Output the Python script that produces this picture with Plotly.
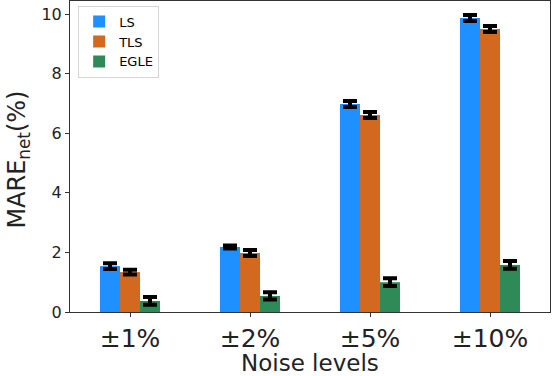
import plotly.graph_objects as go

noise_levels = ['±1%', '±2%', '±5%', '±10%']

ls_vals = [1.54, 2.18, 6.98, 9.87]
tls_vals = [1.34, 1.98, 6.61, 9.50]
egle_vals = [0.37, 0.54, 1.00, 1.58]

ls_err = [0.10, 0.05, 0.10, 0.10]
tls_err = [0.08, 0.10, 0.10, 0.10]
egle_err = [0.13, 0.12, 0.13, 0.13]

colors = ['#1E90FF', '#D2691E', '#2E8B57']
font_name = 'DejaVu Sans'

fig = go.Figure()
for name, vals, errs, col in [('LS', ls_vals, ls_err, colors[0]),
                              ('TLS', tls_vals, tls_err, colors[1]),
                              ('EGLE', egle_vals, egle_err, colors[2])]:
    fig.add_trace(go.Bar(
        name=name,
        x=noise_levels,
        y=vals,
        marker=dict(color=col, line=dict(width=0)),
        error_y=dict(type='data', array=errs, visible=True,
                     color='black', thickness=4, width=7),
    ))

fig.update_layout(
    width=552, height=376,
    margin=dict(l=70, r=2, t=1, b=64),
    paper_bgcolor='white', plot_bgcolor='white',
    barmode='group', bargap=0.5, bargroupgap=0,
    font=dict(family=font_name, color='#222'),
    legend=dict(x=0.017, y=0.985, xanchor='left', yanchor='top',
                bgcolor='white', bordercolor='#d6d6d6', borderwidth=1,
                font=dict(size=13, color='black'), tracegroupgap=2),
    xaxis=dict(
        tickfont=dict(size=25, color='#222'),
        range=[-0.5, 3.5],
        automargin=False,
        showline=True, linecolor='#333', linewidth=1, mirror=True,
        ticks='outside', ticklen=4, tickcolor='#333',
        showgrid=False,
    ),
    yaxis=dict(
        tickfont=dict(size=16, color='#222'),
        range=[0, 10.44],
        tickvals=[0, 2, 4, 6, 8, 10],
        automargin=False,
        showline=True, linecolor='#333', linewidth=1, mirror=True,
        ticks='outside', ticklen=4, tickcolor='#333',
        showgrid=False, zeroline=False,
    ),
)

# axis titles placed as annotations so the margins stay fixed
fig.add_annotation(text='Noise levels', xref='paper', yref='paper',
                   x=0.5, y=0, xanchor='center', yanchor='top', yshift=-36,
                   showarrow=False, font=dict(size=23, color='#222'))
fig.add_annotation(text='MARE<sub>net</sub>(%)', xref='paper', yref='paper',
                   x=0, y=0.49, xanchor='center', yanchor='middle', xshift=-51,
                   textangle=-90, showarrow=False, font=dict(size=24, color='#222'))

fig.write_html("out.html", config={'displayModeBar': False},
               post_script="document.body.style.margin='0';")
